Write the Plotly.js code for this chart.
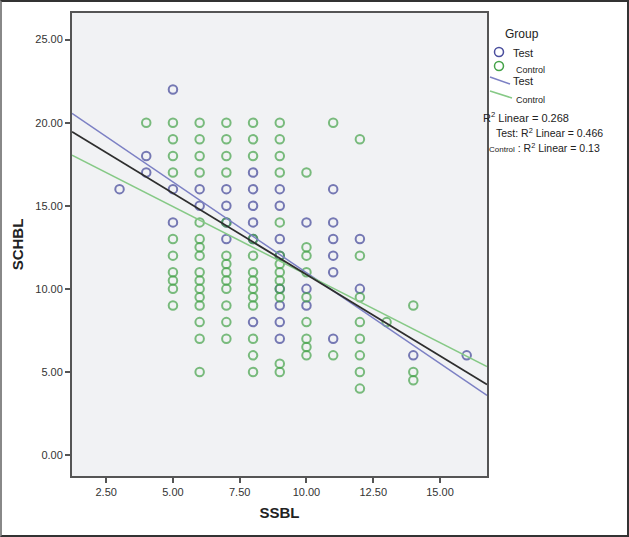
<!DOCTYPE html>
<html>
<head>
<meta charset="utf-8">
<script src="https://cdn.plot.ly/plotly-3.0.1.min.js"></script>
<style>
  body { margin: 0; background: #fff; }
  #wrap { position: relative; width: 629px; height: 537px; }
  #frame { position: absolute; left: 0; top: 0; width: 629px; height: 537px; box-sizing: border-box;
           border: 2px solid #333; border-left-color: #888; pointer-events: none; }
</style>
</head>
<body>
<div id="wrap">
  <div id="graph"></div>
  <div id="frame"></div>
</div>
<script>
// Test group (blue circles)
var testX = [3, 4, 4, 5, 5, 5, 6, 6, 7, 7, 7, 7, 8, 8, 8, 8, 8, 8,
             9, 9, 9, 9, 9, 9, 9, 9, 10, 10, 10, 11, 11, 11, 11, 11, 11, 12, 12, 14, 16];
var testY = [16, 18, 17, 22, 16, 14, 16, 15, 16, 15, 14, 13, 17, 16, 15, 14, 13, 8,
             16, 15, 13, 12, 10, 9, 8, 7, 14, 10, 9, 16, 14, 13, 12, 11, 7, 13, 10, 6, 6];

// Control group (green circles)
var controlX = [4,
  5, 5, 5, 5, 5, 5, 5, 5, 5, 5,
  6, 6, 6, 6, 6, 6, 6, 6, 6, 6, 6, 6, 6, 6, 6, 6,
  7, 7, 7, 7, 7, 7, 7, 7, 7, 7, 7, 7, 7,
  8, 8, 8, 8, 8, 8, 8, 8, 8, 8, 8, 8, 8,
  9, 9, 9, 9, 9, 9, 9, 9, 9, 9, 9, 9, 9,
  10, 10, 10, 10, 10, 10, 10, 10, 10,
  11, 11,
  12, 12, 12, 12, 12, 12, 12, 12,
  13,
  14, 14, 14];
var controlY = [20,
  20, 19, 18, 17, 13, 12, 11, 10.5, 10, 9,
  20, 19, 18, 17, 14, 13, 12.5, 12, 11, 10.5, 10, 9.5, 9, 8, 7, 5,
  20, 19, 18, 17, 14, 12, 11.5, 11, 10.5, 10, 9, 8, 7,
  20, 19, 18, 13, 12, 11, 10.5, 10, 9.5, 9, 7, 6, 5,
  20, 19, 18, 17, 14, 12, 11.5, 11, 10.5, 10, 9.5, 5.5, 5,
  17, 12.5, 12, 11, 9.5, 8, 7, 6.5, 6,
  20, 6,
  19, 12, 9.5, 8, 7, 6, 5, 4,
  8,
  9, 5, 4.5];

// fit lines, end points
var fitX = [1.22, 16.76];
var fitTotal = [19.45, 4.25];
var fitTest = [20.56, 3.59];
var fitControl = [18.04, 5.33];

var groupNames = ['Test', 'Control'];
var r2Labels = ['R<sup>2</sup> Linear = 0.268',
                'Test: R<sup>2</sup> Linear = 0.466',
                '<span style="font-size:8px">Control</span> : R<sup>2</sup> Linear = 0.13'];

var blue = '#4b4f9e';
var green = '#45a349';
var blueLine = '#7c80c4';
var greenLine = '#86c986';
var fam = 'Liberation Sans, Arial, sans-serif';

var data = [
  {
    x: testX, y: testY, name: groupNames[0], type: 'scatter', mode: 'markers',
    marker: { symbol: 'circle-open', size: 8.5, color: blue, opacity: 0.75, line: { width: 2 } }
  },
  {
    x: controlX, y: controlY, name: groupNames[1], type: 'scatter', mode: 'markers',
    marker: { symbol: 'circle-open', size: 8.5, color: green, opacity: 0.7, line: { width: 2 } }
  },
  {
    x: fitX, y: fitTest, name: groupNames[0], type: 'scatter', mode: 'lines',
    line: { color: blueLine, width: 1.5 }
  },
  {
    x: fitX, y: fitControl, name: groupNames[1], type: 'scatter', mode: 'lines',
    line: { color: greenLine, width: 1.5 }
  },
  {
    x: fitX, y: fitTotal, name: 'Total', type: 'scatter', mode: 'lines',
    line: { color: '#2e2e2e', width: 1.8 }
  }
];

// legend drawn in paper units: plot area is 415 x 463 px, from (72, 13)
function px(x) { return (x - 72) / 415; }
function py(y) { return (476 - y) / 463; }

function legendText(x, y, text, size) {
  return { xref: 'paper', yref: 'paper', x: px(x), y: py(y), xanchor: 'left', yanchor: 'middle',
           text: text, showarrow: false, font: { family: fam, size: size, color: '#222' } };
}
function legendCircle(cx, cy, color) {
  return { type: 'circle', xref: 'paper', yref: 'paper',
           x0: px(cx - 4.5), x1: px(cx + 4.5), y0: py(cy + 4.5), y1: py(cy - 4.5),
           line: { color: color, width: 1.5 } };
}
function legendLine(x0, y0, x1, y1, color) {
  return { type: 'line', xref: 'paper', yref: 'paper', x0: px(x0), y0: py(y0), x1: px(x1), y1: py(y1),
           line: { color: color, width: 1.5 } };
}

var axisFont = { family: fam, size: 11, color: '#333' };

var layout = {
  width: 629,
  height: 537,
  margin: { l: 72, r: 142, t: 13, b: 61 },
  paper_bgcolor: '#ffffff',
  plot_bgcolor: '#f1f2f4',
  font: axisFont,
  showlegend: false,
  xaxis: {
    range: [1.22, 16.76],
    tickvals: [2.5, 5, 7.5, 10, 12.5, 15],
    tickformat: '.2f',
    ticks: 'outside', ticklen: 5, tickwidth: 2, tickcolor: '#555',
    showline: true, linecolor: '#555', linewidth: 2, mirror: true,
    showgrid: false, zeroline: false,
    tickfont: axisFont,
    title: { text: 'SSBL', standoff: 10, font: { family: fam, size: 15, color: '#222', weight: 'bold' } }
  },
  yaxis: {
    range: [-1.26, 26.6],
    tickvals: [0, 5, 10, 15, 20, 25],
    tickformat: '.2f',
    ticks: 'outside', ticklen: 5, tickwidth: 2, tickcolor: '#555',
    showline: true, linecolor: '#555', linewidth: 2, mirror: true,
    showgrid: false, zeroline: false,
    tickfont: axisFont,
    title: { text: 'SCHBL', standoff: 8, font: { family: fam, size: 15, color: '#222', weight: 'bold' } }
  },
  shapes: [
    legendCircle(499, 52, blue),
    legendCircle(499, 66, green),
    legendLine(490, 77, 510, 84, blueLine),
    legendLine(490, 91, 512, 98, greenLine)
  ],
  annotations: [
    legendText(503, 34, 'Group', 12),
    legendText(511, 53, groupNames[0], 11),
    legendText(514, 70, groupNames[1], 9),
    legendText(511, 81, groupNames[0], 11),
    legendText(514, 100, groupNames[1], 9),
    legendText(481, 117, r2Labels[0], 11),
    legendText(494, 132, r2Labels[1], 10.5),
    legendText(487, 147, r2Labels[2], 10.5)
  ]
};

Plotly.newPlot('graph', data, layout, { displayModeBar: false, staticPlot: true });
</script>
</body>
</html>
